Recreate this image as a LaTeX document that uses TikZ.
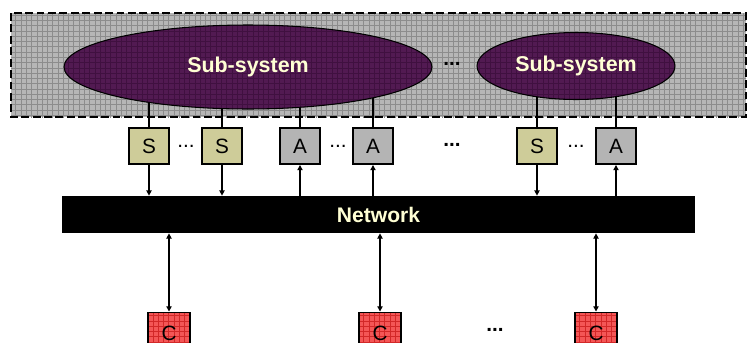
\documentclass[tikz,border=0pt]{standalone}
\usepackage{fontspec}
\setmainfont{Liberation Sans}
\usepackage{tikz}
\usetikzlibrary{arrows.meta,patterns,shapes.geometric}
\definecolor{areagray}{RGB}{182,182,182}
\definecolor{gridgray}{RGB}{140,140,140}
\definecolor{subpurple}{RGB}{82,26,82}
\definecolor{gridpurple}{RGB}{64,16,64}
\definecolor{cream}{RGB}{255,255,212}
\definecolor{sbox}{RGB}{206,204,153}
\definecolor{abox}{RGB}{180,180,180}
\definecolor{cred}{RGB}{244,86,86}
\definecolor{gridred}{RGB}{210,40,40}
\pgfdeclarelayer{bg}
\pgfdeclarelayer{links}
\pgfsetlayers{bg,links,main}
\tikzset{
  txt/.style={font=\fontsize{11.8}{13}\selectfont},
  subsys/.style={ellipse, draw=black, line width=0.6pt,
    preaction={fill=subpurple}, pattern=grid, pattern color=gridpurple,
    font=\fontsize{12.2}{14}\selectfont\bfseries, text=cream},
  iobox/.style={draw=black, line width=1.1pt, minimum width=0.8cm,
    minimum height=0.72cm, inner sep=0pt, txt},
  sensor/.style={iobox, fill=sbox},
  actuator/.style={iobox, fill=abox},
  ctrl/.style={iobox, minimum width=0.84cm, minimum height=0.82cm,
    preaction={fill=cred}, pattern=grid, pattern color=gridred},
  link/.style={line width=0.7pt},
  tip/.style={link, -{Triangle[length=3pt,width=3pt]}},
  both/.style={link, {Triangle[length=3pt,width=3pt]}-{Triangle[length=3pt,width=3pt]}},
  dots/.style={txt},
  bigdots/.style={font=\fontsize{11.8}{13}\selectfont\bfseries}
}
\begin{document}
\begin{tikzpicture}[x=0.02cm, y=-0.02cm]
  \useasboundingbox (0,0) rectangle (750,342);
  \begin{pgfonlayer}{bg}
    \draw[line width=1.4pt, dash pattern=on 4.5pt off 2pt, preaction={fill=areagray},
      pattern=grid, pattern color=gridgray] (11,13) rectangle (746,117);
  \end{pgfonlayer}
  \node[subsys, minimum width=7.36cm, minimum height=1.68cm] (sub1) at (248,67) {Sub-system};
  \node[subsys, minimum width=3.96cm, minimum height=1.34cm] (sub2) at (576,66) {Sub-system};
  \node[bigdots] (dtop) at (452,64) {...};
  \node[sensor] (s1) at (149,146) {S};
  \node[dots] (d1) at (186,146) {...};
  \node[sensor] (s2) at (222,146) {S};
  \node[actuator] (a1) at (300,146) {A};
  \node[dots] (d2) at (338,146) {...};
  \node[actuator] (a2) at (373,146) {A};
  \node[bigdots] (dmid) at (452,145) {...};
  \node[sensor] (s3) at (537,146) {S};
  \node[dots] (d3) at (576,146) {...};
  \node[actuator] (a3) at (616,146) {A};
  \node[fill=black, minimum width=12.66cm, minimum height=0.74cm, inner sep=0pt,
    font=\fontsize{12}{14}\selectfont\bfseries, text=cream] (net) at (378.5,214.5) {Network};
  \node[ctrl] (c1) at (169,333) {C};
  \node[ctrl] (c2) at (380,333) {C};
  \node[bigdots] (dbot) at (495,330) {...};
  \node[ctrl] (c3) at (596,333) {C};
  \begin{pgfonlayer}{links}
    \draw[link] (s1.north) -- (s1.north |- sub1.center);
    \draw[link] (s2.north) -- (s2.north |- sub1.center);
    \draw[link] (a1.north) -- (a1.north |- sub1.center);
    \draw[link] (a2.north) -- (a2.north |- sub1.center);
    \draw[link] (s3.north) -- (s3.north |- sub2.center);
    \draw[link] (a3.north) -- (a3.north |- sub2.center);
  \end{pgfonlayer}
  \draw[tip] (s1.south) -- (s1.south |- net.north);
  \draw[tip] (s2.south) -- (s2.south |- net.north);
  \draw[tip] (s3.south) -- (s3.south |- net.north);
  \draw[tip] (a1.south |- net.north) -- (a1.south);
  \draw[tip] (a2.south |- net.north) -- (a2.south);
  \draw[tip] (a3.south |- net.north) -- (a3.south);
  \draw[both] (c1.north |- net.south) -- (c1.north);
  \draw[both] (c2.north |- net.south) -- (c2.north);
  \draw[both] (c3.north |- net.south) -- (c3.north);
\end{tikzpicture}
\end{document}
